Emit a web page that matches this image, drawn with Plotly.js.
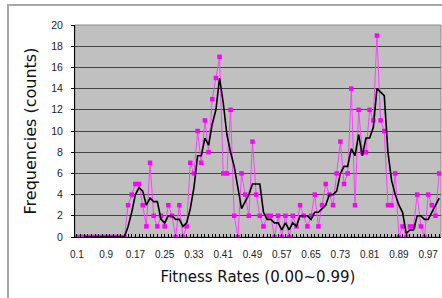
<!DOCTYPE html>
<html>
<head>
<meta charset="utf-8">
<script src="https://cdn.plot.ly/plotly-3.0.1.min.js"></script>
<style>
  html, body { margin: 0; padding: 0; background: #ffffff; overflow: hidden; }
  #chart { width: 442px; height: 298px; position: absolute; left: 0; top: 0; }
  #frame { position: absolute; left: 7px; top: 4px; width: 600px; height: 400px;
           border-top: 2px solid #a9a9a9; border-left: 2px solid #a9a9a9;
           pointer-events: none; z-index: 5; }
</style>
</head>
<body>
<div id="chart"></div>
<div id="frame"></div>
<script>
// Fitness-rate bins (category labels as printed on the original axis)
const categories = [
  '0.1','0.2','0.3','0.4','0.5','0.6','0.7','0.8','0.9','0.10',
  '0.11','0.12','0.13','0.14','0.15','0.16','0.17','0.18','0.19','0.20',
  '0.21','0.22','0.23','0.24','0.25','0.26','0.27','0.28','0.29','0.30',
  '0.31','0.32','0.33','0.34','0.35','0.36','0.37','0.38','0.39','0.40',
  '0.41','0.42','0.43','0.44','0.45','0.46','0.47','0.48','0.49','0.50',
  '0.51','0.52','0.53','0.54','0.55','0.56','0.57','0.58','0.59','0.60',
  '0.61','0.62','0.63','0.64','0.65','0.66','0.67','0.68','0.69','0.70',
  '0.71','0.72','0.73','0.74','0.75','0.76','0.77','0.78','0.79','0.80',
  '0.81','0.82','0.83','0.84','0.85','0.86','0.87','0.88','0.89','0.90',
  '0.91','0.92','0.93','0.94','0.95','0.96','0.97','0.98','0.99','1'
];

// Labels shown on the x axis
const tickLabels = ['0.1','0.9','0.17','0.25','0.33','0.41','0.49','0.57','0.65','0.73','0.81','0.89','0.97'];

// Frequency (counts) per bin
const frequencies = [
  0,0,0,0,0,0,0,0,0,0,
  0,0,0,0,3,4,5,5,3,1,
  7,2,1,2,1,3,2,0,3,0,
  1,7,6,10,7,11,8,13,15,17,
  6,6,12,2,0,6,4,2,9,4,
  2,1,2,2,0,2,0,2,0,2,
  1,3,2,1,2,4,1,3,5,4,
  3,6,9,5,6,14,3,12,8,8,
  12,11,19,11,10,3,3,6,0,1,
  0,1,1,4,1,0,4,3,2,6
];

// Trendline in the original: 3-period moving average of the counts
const trendPeriod = 3;
const trendX = [], trendY = [];
for (let i = trendPeriod - 1; i < frequencies.length; i++) {
  let s = 0;
  for (let k = 0; k < trendPeriod; k++) s += frequencies[i - k];
  trendX.push(categories[i]);
  trendY.push(s / trendPeriod);
}

const yTicks = [0,2,4,6,8,10,12,14,16,18,20];

const traces = [
  {
    type: 'scatter', mode: 'lines+markers',
    x: categories, y: frequencies,
    line: { color: '#ff40ff', width: 1 },
    marker: { symbol: 'square', size: 4.5, color: '#ff00ff', line: { width: 0 } },
    hoverinfo: 'x+y', showlegend: false
  },
  {
    type: 'scatter', mode: 'lines',
    x: trendX, y: trendY,
    line: { color: '#000000', width: 1.6 },
    hoverinfo: 'skip', showlegend: false
  }
];

const layout = {
  width: 442, height: 298,
  margin: { l: 75, r: 1, t: 25, b: 61, pad: 0 },
  paper_bgcolor: 'rgba(0,0,0,0)',
  plot_bgcolor: '#c0c0c0',
  font: { family: 'Liberation Sans, Arial, sans-serif', size: 10, color: '#222' },
  showlegend: false,
  xaxis: {
    type: 'category',
    categoryorder: 'array', categoryarray: categories,
    range: [-0.5, categories.length - 0.5],
    tickmode: 'array',
    tickvals: categories,
    ticktext: categories.map(c => tickLabels.includes(c) ? c : ''),
    ticks: 'inside', ticklen: 3, tickwidth: 1, tickcolor: '#000',
    ticklabelstandoff: 8,
    tickangle: 0,
    tickfont: { size: 10, color: '#222' },
    showgrid: false, zeroline: false,
    showline: true, linecolor: '#000', linewidth: 1,
    title: { text: 'Fitness Rates (0.00~0.99)', standoff: 12,
             font: { family: 'DejaVu Sans, sans-serif', size: 15, color: '#111' } },
    fixedrange: true
  },
  yaxis: {
    range: [0, 20],
    tickmode: 'array', tickvals: yTicks, ticktext: yTicks.map(String),
    ticks: 'outside', ticklen: 3, tickcolor: '#000',
    ticklabelstandoff: 6,
    tickfont: { size: 10.5, color: '#222' },
    showgrid: true, gridcolor: '#454545', gridwidth: 1,
    zeroline: false,
    showline: true, linecolor: '#000', linewidth: 1,
    title: { text: 'Frequencies (counts)', standoff: 10,
             font: { family: 'DejaVu Sans, sans-serif', size: 16, color: '#111' } },
    fixedrange: true
  },
  shapes: [
    { type: 'rect', xref: 'paper', yref: 'paper', x0: 0, x1: 1, y0: 0, y1: 1,
      line: { color: '#8a8a8a', width: 1 }, fillcolor: 'rgba(0,0,0,0)', layer: 'below' }
  ]
};

Plotly.newPlot('chart', traces, layout, { displayModeBar: false, staticPlot: true });
</script>
</body>
</html>
